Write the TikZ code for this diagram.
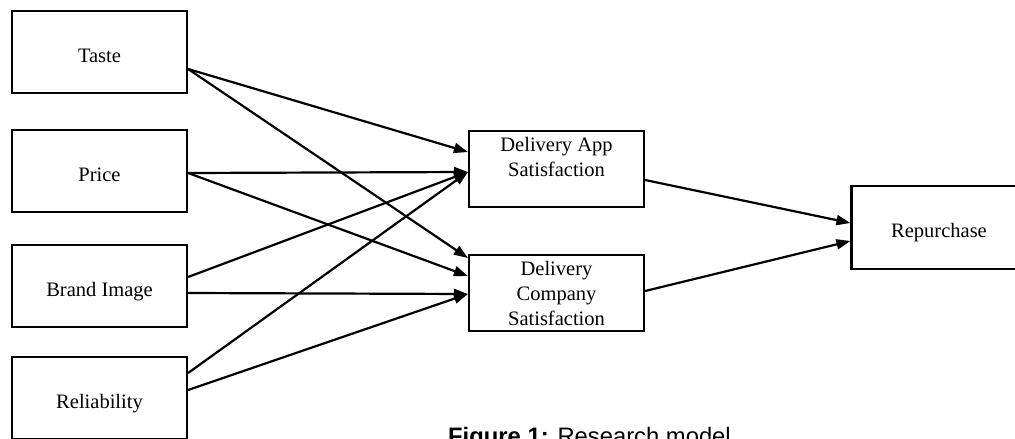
\documentclass[tikz,border=0pt]{standalone}
\usepackage{fontspec}
\setmainfont{Liberation Serif}
\newfontfamily\capfont{Liberation Sans}
\usetikzlibrary{arrows.meta}

\tikzset{
  factor/.style={shape=rectangle, draw=black, line width=2.2pt, align=center,
    minimum width=175pt, minimum height=82pt, inner sep=0pt,
    text height=20pt, text depth=0pt,
    font=\fontsize{20.5}{25}\selectfont},
  satis/.style={shape=rectangle, draw=black, line width=2.2pt, align=center,
    minimum width=175pt, minimum height=76pt, inner sep=0pt,
    font=\fontsize{20.5}{25}\selectfont},
  link/.style={-{Triangle[length=14pt,width=10pt]}, line width=2.2pt}
}

\begin{document}
\begin{tikzpicture}[x=1pt, y=-1pt]
            \clip (0,0) rectangle (1015,439);
            \useasboundingbox (0,0) rectangle (1015,439);

            \node[factor] (Taste) at (99.5,52) {Taste};
            \node[factor] (Price) at (99.5,171) {Price};
            \node[factor] (Brand) at (99.5,286) {Brand Image};
            \node[factor] (Rel) at (99.5,398) {Reliability};
            \node[satis, text depth=24pt] (DAS) at (556.5,169) {Delivery App\\Satisfaction};
            \node[satis] (DCS) at (556.5,293) {Delivery\\Company\\Satisfaction};
            \node[factor, minimum height=83pt] (Rep) at (939,227.5) {Repurchase};

            \path [link] ([yshift=-17pt]Taste.east) edge ([yshift=17pt]DAS.west);
            \path [link] ([yshift=-17pt]Taste.east) edge ([yshift=35pt]DCS.west);
            \path [link] ([yshift=-2pt]Price.east) edge ([yshift=-3pt]DAS.west);
            \path [link] ([yshift=-2pt]Price.east) edge ([yshift=17pt]DCS.west);
            \path [link] ([yshift=9pt]Brand.east) edge ([yshift=-3pt]DAS.west);
            \path [link] ([yshift=-7pt]Brand.east) edge ([yshift=-1pt]DCS.west);
            \path [link] ([yshift=25pt]Rel.east) edge ([yshift=-3pt]DAS.west);
            \path [link] ([yshift=8pt]Rel.east) edge ([yshift=-1pt]DCS.west);
            \path [link] ([yshift=-11pt]DAS.east) edge ([yshift=4.5pt]Rep.west);
            \path [link] ([yshift=2pt]DCS.east) edge ([yshift=-13.5pt]Rep.west);

            % caption, cut off at the lower edge
            \node[anchor=base west, inner sep=0pt, font=\capfont\fontsize{23.8}{28}\selectfont] (Cap) at (448,444) {\textbf{Figure 1:} Research model};
        \end{tikzpicture}
\end{document}
